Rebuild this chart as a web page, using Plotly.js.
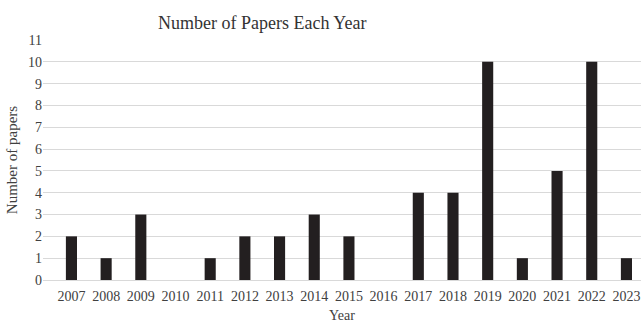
<!DOCTYPE html>
<html>
<head>
<meta charset="utf-8">
<script src="https://cdn.plot.ly/plotly-3.0.1.min.js"></script>
<style>html,body{margin:0;padding:0;background:#fff;}#chart{width:641px;height:323px;}</style>
</head>
<body>
<div id="chart"></div>
<script>
const years = ["2007","2008","2009","2010","2011","2012","2013","2014","2015","2016","2017","2018","2019","2020","2021","2022","2023"];
const papers = [2,1,3,0,1,2,2,3,2,0,4,4,10,1,5,10,1];
const yTicks = [0,1,2,3,4,5,6,7,8,9,10,11];

const serif = "Liberation Serif, DejaVu Serif, serif";
Plotly.newPlot("chart", [{
  type: "bar",
  x: years,
  y: papers,
  width: 0.32,
  marker: {color: "#231f20", line: {width: 0}},
  hoverinfo: "none"
}], {
  width: 641, height: 323,
  margin: {l: 43, r: 0, t: 40, b: 43},
  paper_bgcolor: "#fff", plot_bgcolor: "#fff",
  showlegend: false,
  title: {text: "Number of Papers Each Year", xref: "container", x: 0.409, xanchor: "center",
          yref: "container", y: 0.93, yanchor: "middle",
          font: {family: serif, size: 18, color: "#333"}},
  xaxis: {
    type: "category",
    range: [-0.82, 16.42],
    showgrid: false, zeroline: false, showline: false,
    ticks: "", ticklabelstandoff: 6,
    tickfont: {family: serif, size: 14, color: "#404040"},
    automargin: false,
    title: {text: "Year", font: {family: serif, size: 14, color: "#404040"}, standoff: 9}
  },
  yaxis: {
    range: [0, 11],
    tickvals: yTicks,
    showgrid: true, gridcolor: "#d9d9d9", gridwidth: 1,
    zeroline: true, zerolinecolor: "#d9d9d9", zerolinewidth: 1,
    showline: false, ticks: "",
    automargin: false,
    tickfont: {family: serif, size: 14, color: "#404040"},
    title: {text: "Number of papers", font: {family: serif, size: 15, color: "#404040"}, standoff: 6}
  }
}, {staticPlot: true});
</script>
</body>
</html>
